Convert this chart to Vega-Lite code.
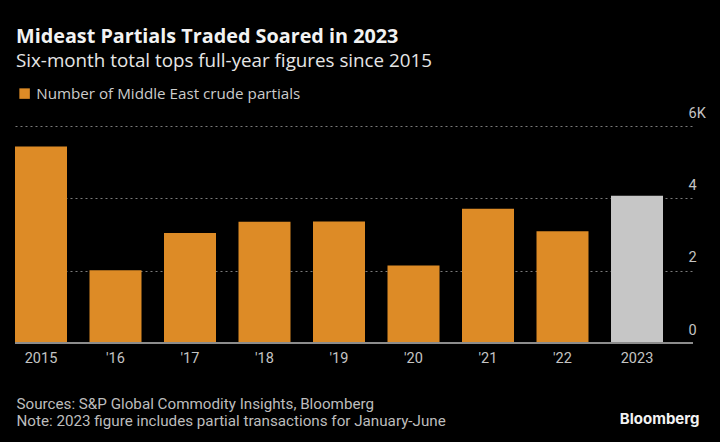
{
  "$schema": "https://vega.github.io/schema/vega-lite/v6.json",
  "autosize": "none",
  "width": 678,
  "height": 217,
  "padding": {"left": 15, "top": 126, "right": 27, "bottom": 99},
  "background": "#000000",
  "title": {
    "text": "Mideast Partials Traded Soared in 2023",
    "subtitle": "Six-month total tops full-year figures since 2015",
    "anchor": "start",
    "frame": "group",
    "orient": "top",
    "offset": 15,
    "font": "Open Sans",
    "fontSize": 19.8,
    "fontWeight": "bold",
    "color": "#f2f2f2",
    "subtitleFont": "Open Sans",
    "subtitleFontSize": 18.8,
    "subtitleColor": "#e6e6e6",
    "subtitlePadding": 5,
    "dx": 1
  },
  "config": {
    "view": {"stroke": null},
    "font": "Roboto"
  },
  "data": {
    "values": [
      {"year": "2015", "value": 5430, "type": "Number of Middle East crude partials"},
      {"year": "'16", "value": 2010, "type": "Number of Middle East crude partials"},
      {"year": "'17", "value": 3040, "type": "Number of Middle East crude partials"},
      {"year": "'18", "value": 3350, "type": "Number of Middle East crude partials"},
      {"year": "'19", "value": 3360, "type": "Number of Middle East crude partials"},
      {"year": "'20", "value": 2140, "type": "Number of Middle East crude partials"},
      {"year": "'21", "value": 3710, "type": "Number of Middle East crude partials"},
      {"year": "'22", "value": 3090, "type": "Number of Middle East crude partials"},
      {"year": "2023", "value": 4070, "type": "January-June"}
    ]
  },
  "layer": [
    {
      "mark": {"type": "bar"},
      "encoding": {
        "x": {
          "field": "year",
          "type": "nominal",
          "sort": null,
          "scale": {"paddingInner": 0.302, "paddingOuter": 0.2013, "align": 0},
          "axis": {
            "title": ["Sources: S&P Global Commodity Insights, Bloomberg", "Note: 2023 figure includes partial transactions for January-June"],
            "titleAnchor": "start",
            "titleAlign": "left",
            "titleBaseline": "top",
            "titleX": 1,
            "titleY": 53,
            "titleFont": "Roboto",
            "titleFontSize": 15.2,
            "titleFontWeight": "normal",
            "titleColor": "#bdbdbd",
            "titleLineHeight": 17,
            "labelAngle": 0,
            "labelFont": "Roboto",
            "labelFontSize": 14.5,
            "labelColor": "#c4c4c4",
            "labelPadding": 8,
            "ticks": false,
            "domain": false
          }
        },
        "y": {
          "field": "value",
          "type": "quantitative",
          "scale": {"domain": [0, 6000], "nice": false},
          "axis": {
            "orient": "left",
            "values": [0, 2000, 4000, 6000],
            "labelExpr": "datum.value == 6000 ? '6K' : format(datum.value / 1000, 'd')",
            "labelAlign": "left",
            "labelBaseline": "alphabetic",
            "labelOffset": -9,
            "labelPadding": -673,
            "labelFont": "Roboto",
            "labelFontSize": 14.5,
            "labelColor": "#c4c4c4",
            "ticks": false,
            "domain": false,
            "grid": true,
            "gridColor": "#7a7a7a",
            "gridDash": [2, 3],
            "gridWidth": 1,
            "title": "Bloomberg",
            "titleAngle": 0,
            "titleAlign": "right",
            "titleBaseline": "alphabetic",
            "titleX": 684,
            "titleY": 297,
            "titleFont": "Inter",
            "titleFontSize": 15,
            "titleFontWeight": "bold",
            "titleColor": "#f2f2f2"
          }
        },
        "color": {
          "field": "type",
          "type": "nominal",
          "scale": {"domain": ["Number of Middle East crude partials", "January-June"], "range": ["#dd8b26", "#c6c6c6"]},
          "legend": {
            "values": ["Number of Middle East crude partials"],
            "title": null,
            "orient": "none",
            "legendX": 2,
            "legendY": -40,
            "symbolType": "square",
            "symbolSize": 110,
            "symbolStrokeWidth": 0,
            "labelFont": "Open Sans",
            "labelFontSize": 15.2,
            "labelColor": "#cccccc",
            "labelOffset": 4,
            "labelLimit": 500
          }
        }
      }
    },
    {
      "mark": {"type": "rule", "color": "#8c8c8c", "strokeWidth": 1.5},
      "encoding": {"y": {"datum": 0, "type": "quantitative"}}
    }
  ]
}
